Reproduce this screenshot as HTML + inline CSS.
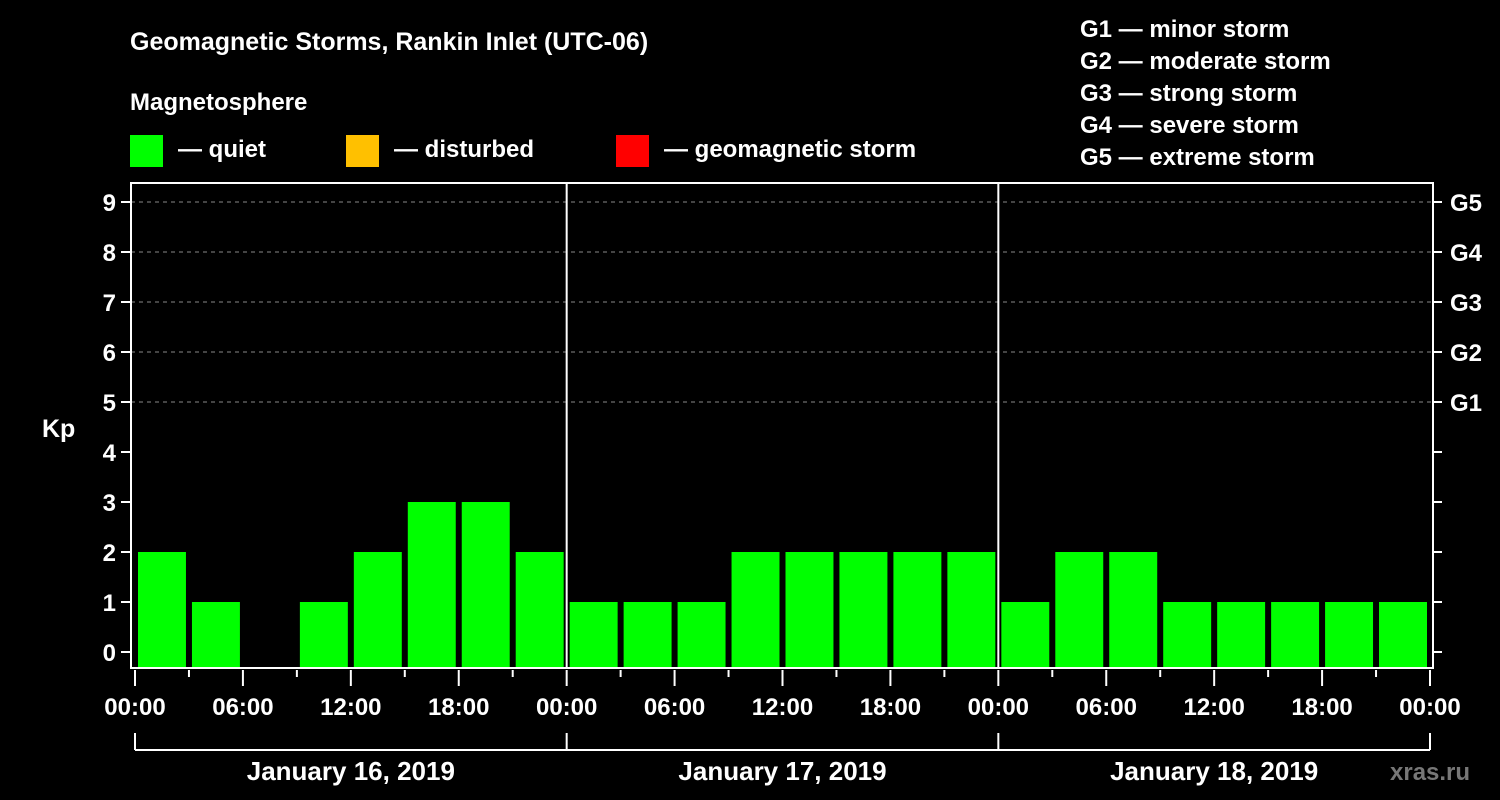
<!DOCTYPE html>
<html><head><meta charset="utf-8"><style>
html,body{margin:0;padding:0;background:#000;}
svg{display:block;font-family:"Liberation Sans",sans-serif;font-weight:bold;}
</style></head><body>
<svg id="chart" width="1500" height="800" viewBox="0 0 1500 800">
<rect width="1500" height="800" fill="#000"/>
<text x="130" y="50" fill="#fff" font-size="25">Geomagnetic Storms, Rankin Inlet (UTC-06)</text>
<text x="130" y="110" fill="#fff" font-size="24">Magnetosphere</text>
<g><rect x="130" y="135" width="33" height="32" fill="#00ff00"/><text x="178" y="157" fill="#fff" font-size="24">— quiet</text></g>
<g><rect x="346" y="135" width="33" height="32" fill="#ffc000"/><text x="394" y="157" fill="#fff" font-size="24">— disturbed</text></g>
<g><rect x="616" y="135" width="33" height="32" fill="#ff0000"/><text x="664" y="157" fill="#fff" font-size="24">— geomagnetic storm</text></g>
<g fill="#fff" font-size="24">
<text x="1080" y="37">G1 — minor storm</text>
<text x="1080" y="69">G2 — moderate storm</text>
<text x="1080" y="101">G3 — strong storm</text>
<text x="1080" y="133">G4 — severe storm</text>
<text x="1080" y="165">G5 — extreme storm</text>
</g>
<text x="42" y="437" fill="#fff" font-size="25">Kp</text>
<g id="grid"></g><g id="bars"></g><g id="axes"></g>
<text x="1390" y="780" fill="#777" font-size="24">xras.ru</text>
</svg>
<script>
const days = ["January 16, 2019","January 17, 2019","January 18, 2019"];
const kpValues = [2,1,0,1,2,3,3,2, 1,1,1,2,2,2,2,2, 1,2,2,1,1,1,1,1];
const yTicks = [0,1,2,3,4,5,6,7,8,9];
const gLabels = ["G1","G2","G3","G4","G5"];
const gLevels = [5,6,7,8,9];
const xTickLabels = ["00:00","06:00","12:00","18:00"];

const NS="http://www.w3.org/2000/svg";
const X0=135, X1=1430, PB=668, PT=183, LEFT=131, RIGHT=1433;
const slots=kpValues.length;
const slotW=(X1-X0)/slots;
const x=i=>X0+i*slotW;
const y=v=>652-v*50;
function mk(tag,attrs,parent){const e=document.createElementNS(NS,tag);for(const k in attrs)e.setAttribute(k,attrs[k]);parent.appendChild(e);return e;}
const grid=document.getElementById('grid'),bars=document.getElementById('bars'),axes=document.getElementById('axes');
gLevels.forEach(v=>{
  const l=mk('line',{x1:LEFT,x2:RIGHT,y1:y(v),y2:y(v),stroke:'#888','stroke-dasharray':'4,4','stroke-width':1},grid);
  
  
});
kpValues.forEach((v,i)=>{
  if(v<=0)return;
  const c=v>=5?'#ff0000':(v>=4?'#ffc000':'#00ff00');
  const r=mk('rect',{x:x(i)+3,y:y(v),width:slotW-6,height:PB-1-y(v),fill:c},bars);
  
  
});
// frame
mk('rect',{x:LEFT,y:PT,width:RIGHT-LEFT,height:PB-PT,fill:'none',stroke:'#fff','stroke-width':2},axes);
for(let d=1;d<days.length;d++){const xx=x(d*8);mk('line',{x1:xx,x2:xx,y1:PT,y2:PB,stroke:'#fff','stroke-width':2},axes);}
yTicks.forEach(v=>{
  mk('line',{x1:LEFT-10,x2:LEFT,y1:y(v),y2:y(v),stroke:'#fff','stroke-width':2},axes);
  mk('line',{x1:RIGHT,x2:RIGHT+9,y1:y(v),y2:y(v),stroke:'#fff','stroke-width':2},axes);
  const t=mk('text',{x:116,y:y(v)+9,fill:'#fff','font-size':24,'text-anchor':'end'},axes);t.textContent=v;
  
  
});
gLevels.forEach((v,i)=>{
  const t=mk('text',{x:1450,y:y(v)+9,fill:'#fff','font-size':24},axes);t.textContent=gLabels[i];
  
  
});
for(let i=0;i<=slots;i++){
  const major=i%2===0;
  mk('line',{x1:x(i),x2:x(i),y1:PB+2,y2:major?PB+18:PB+9,stroke:'#fff','stroke-width':2},axes);
  if(major){
    const t=mk('text',{x:x(i),y:715,fill:'#fff','font-size':24,'text-anchor':'middle'},axes);
    t.textContent=xTickLabels[(i/2)%4];
    
    
  }
}
mk('line',{x1:X0,x2:X1,y1:750,y2:750,stroke:'#fff','stroke-width':2},axes);
for(let d=0;d<=days.length;d++){const xx=x(d*8);mk('line',{x1:xx,x2:xx,y1:733,y2:750,stroke:'#fff','stroke-width':2},axes);}
days.forEach((s,d)=>{
  const t=mk('text',{x:(x(d*8)+x(d*8+8))/2,y:780,fill:'#fff','font-size':26,'text-anchor':'middle'},axes);
  t.textContent=s;
  
  
});
</script>
</body></html>
